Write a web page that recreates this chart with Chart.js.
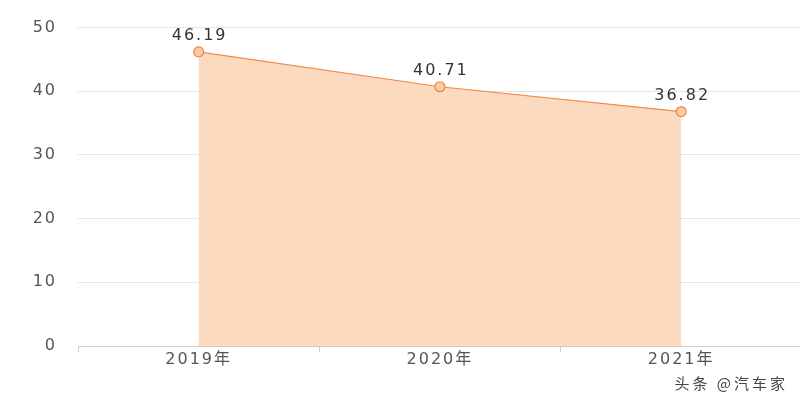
<!DOCTYPE html>
<html>
<head>
<meta charset="utf-8">
<script src="https://cdn.jsdelivr.net/npm/chart.js@4"></script>
<style>
  html, body { margin: 0; padding: 0; background: #fff; }
  #wrap { width: 800px; height: 400px; position: relative; overflow: hidden; }
  #trendChart { position: absolute; left: 0; top: -3px; }
</style>
</head>
<body>
<div id="wrap"><canvas id="trendChart" width="808" height="403"></canvas></div>
<script>
const years = ['2019年', '2020年', '2021年'];
const values = [46.19, 40.71, 36.82];
const yTicks = [0, 10, 20, 30, 40, 50];
const watermark = '头条 @汽车家';

const FONT = '"DejaVu Sans", "Noto Sans CJK SC", sans-serif';

// the reference text is wide and a bit spaced out
const spacingPlugin = {
  id: 'spacing',
  beforeDraw(chart) { chart.ctx.letterSpacing = '2px'; },
};

// value labels above each point + the watermark
const labelPlugin = {
  id: 'labels',
  afterDatasetsDraw(chart) {
    const ctx = chart.ctx;
    const meta = chart.getDatasetMeta(0);
    ctx.save();
    ctx.letterSpacing = '2px';
    ctx.font = '16px ' + FONT;
    ctx.fillStyle = '#333';
    ctx.textAlign = 'center';
    ctx.textBaseline = 'bottom';
    meta.data.forEach((pt, i) => {
      ctx.fillText(values[i].toFixed(2), pt.x + 1, pt.y - 8);
    });
    ctx.letterSpacing = '3px';
    ctx.font = '15px "Noto Sans CJK SC", sans-serif';
    ctx.fillStyle = '#444';
    ctx.textAlign = 'right';
    ctx.textBaseline = 'middle';
    ctx.fillText(watermark, 788, 386);
    ctx.restore();
  },
};

new Chart(document.getElementById('trendChart'), {
  type: 'line',
  data: {
    labels: years,
    datasets: [{
      data: values,
      borderColor: '#ee8a4c',
      borderWidth: 1.2,
      backgroundColor: 'rgba(252, 216, 188, 0.95)',
      fill: 'origin',
      tension: 0,
      pointRadius: 5,
      pointBackgroundColor: '#fbcaa3',
      pointBorderColor: '#e8874a',
      pointBorderWidth: 1.2,
    }],
  },
  options: {
    responsive: false,
    animation: false,
    layout: { padding: { top: 17, right: 0, bottom: 0, left: 0 } },
    plugins: { legend: { display: false }, tooltip: { enabled: false } },
    scales: {
      x: {
        offset: true,
        grid: { offset: true, drawOnChartArea: false, drawTicks: true, tickLength: 6, color: '#ccc' },
        border: { display: true, color: '#ccc' },
        ticks: { color: '#555', font: { size: 16, family: FONT }, padding: -2 },
        afterFit(scale) { scale.height = 54; },
      },
      y: {
        min: 0,
        max: 50,
        afterBuildTicks(scale) { scale.ticks = yTicks.map(v => ({ value: v })); },
        grid: { color: '#e6e6e6', drawTicks: false },
        border: { display: false },
        ticks: { color: '#555', font: { size: 16, family: FONT }, padding: 21 },
        afterFit(scale) { scale.width = 78; },
      },
    },
  },
  plugins: [spacingPlugin, labelPlugin],
});
</script>
</body>
</html>
